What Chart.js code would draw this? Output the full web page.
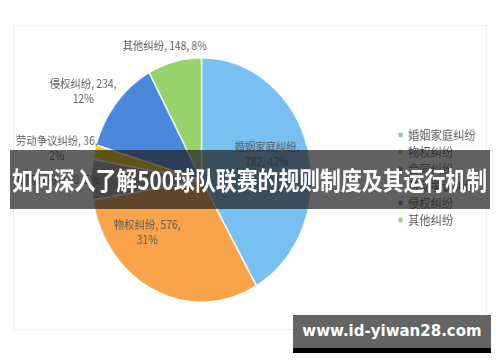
<!DOCTYPE html>
<html>
<head>
<meta charset="utf-8">
<script src="https://cdn.jsdelivr.net/npm/chart.js@4/dist/chart.umd.min.js"></script>
<style>
html, body { margin:0; padding:0; width:500px; height:362px; overflow:hidden; background:#fff; }
#frame { position:absolute; left:13px; top:25px; width:474px; height:305px; border:1px solid #f0f0f0; box-sizing:border-box; }
#wrap { position:absolute; left:0; top:0; width:556px; height:362px; transform:scaleX(0.9); transform-origin:0 0; }
#banner { position:absolute; left:10px; top:150px; width:480px; height:59px; background:rgba(30,30,30,0.7); overflow:hidden; }
#banner span { position:absolute; left:0; top:14px; white-space:nowrap; color:#fff; font-family:"Noto Sans CJK SC", sans-serif; font-weight:700; font-size:25px; line-height:30px; transform-origin:0 0; }
#mark { position:absolute; left:293px; top:315px; width:198px; height:33px; background:#646464; border-bottom:5px solid #000; }
#mark span { position:absolute; left:0; width:198px; top:6px; text-align:center; color:#fff; font-family:"DejaVu Sans", sans-serif; font-weight:700; font-size:15px; line-height:20px; }
</style>
</head>
<body>
<div id="frame"></div>
<div id="wrap"><canvas id="c" width="556" height="362" style="width:556px;height:362px"></canvas></div>
<div id="banner"><span id="btxt">如何深入了解500球队联赛的规则制度及其运行机制</span></div>
<div id="mark"><span>www.id-yiwan28.com</span></div>
<script>
// ---- data ----
const categories = ['婚姻家庭纠纷', '物权纠纷', '合同纠纷', '劳动争议纠纷', '侵权纠纷', '其他纠纷'];
const values = [782, 576, 100, 36, 234, 148];
const colors = ['#78BFF2', '#F9A44A', '#A5A5A5', '#FFCC00', '#4A88DC', '#98D26A'];

// ---- label placement (style) ----
const labelShiftDeg = [-4.5, 24, 0, -2, -5, -2.7];
const labelRadius = [0.63, 0.65, 1.31, 1.34, 1.30, 1.15];
const labelWrap = [2, 1, 0, 1, 1, 0];

const total = values.reduce((a, b) => a + b, 0);

const sliceLabels = {
  id: 'sliceLabels',
  afterDatasetsDraw(chart) {
    const ctx = chart.ctx;
    const meta = chart.getDatasetMeta(0);
    ctx.save();
    ctx.font = '11.5px "Noto Sans CJK SC", "Noto Sans", sans-serif';
    ctx.fillStyle = '#595959';
    ctx.textAlign = 'center';
    ctx.textBaseline = 'middle';
    meta.data.forEach((arc, i) => {
      const p = arc.getProps(['x', 'y', 'startAngle', 'endAngle', 'outerRadius'], true);
      const a = (p.startAngle + p.endAngle) / 2 + labelShiftDeg[i] * Math.PI / 180;
      const r = p.outerRadius * labelRadius[i];
      const x = p.x + Math.cos(a) * r;
      const y = p.y + Math.sin(a) * r;
      const parts = [categories[i], String(values[i]), Math.round(values[i] / total * 100) + '%'];
      const k = labelWrap[i];
      let lines;
      if (k === 0) lines = [parts.join(', ')];
      else lines = [parts.slice(0, 3 - k).join(', ') + ',', parts.slice(3 - k).join(', ')];
      const lh = 15;
      lines.forEach((t, j) => {
        ctx.fillText(t, x, y + (j - (lines.length - 1) / 2) * lh);
      });
    });
    ctx.restore();
  }
};

Chart.defaults.font.family = '"Noto Sans CJK SC", "Noto Sans", sans-serif';

new Chart(document.getElementById('c'), {
  type: 'pie',
  data: {
    labels: categories,
    datasets: [{
      data: values,
      backgroundColor: colors,
      borderColor: '#ffffff',
      borderWidth: 1.5
    }]
  },
  options: {
    responsive: false,
    animation: false,
    layout: { padding: { left: 9.5, right: 17.5, top: 57, bottom: 59 } },
    plugins: {
      tooltip: { enabled: false },
      legend: {
        position: 'right',
        align: 'start',
        title: { display: true, text: '', padding: { top: 52.8, bottom: 0 }, font: { size: 12 } },
        labels: {
          boxWidth: 4.5,
          boxHeight: 4.5,
          padding: 4.5,
          color: '#595959',
          font: { size: 12.5 },
          generateLabels(chart) {
            return Chart.overrides.pie.plugins.legend.labels.generateLabels(chart).map(l => Object.assign(l, { lineWidth: 0 }));
          }
        }
      }
    }
  },
  plugins: [sliceLabels]
});

// fit banner text to the reference width
const bt = document.getElementById('btxt');
const w = bt.getBoundingClientRect().width;
bt.style.transform = 'scaleX(' + (475 / w) + ')';
bt.style.left = '2px';
</script>
</body>
</html>
